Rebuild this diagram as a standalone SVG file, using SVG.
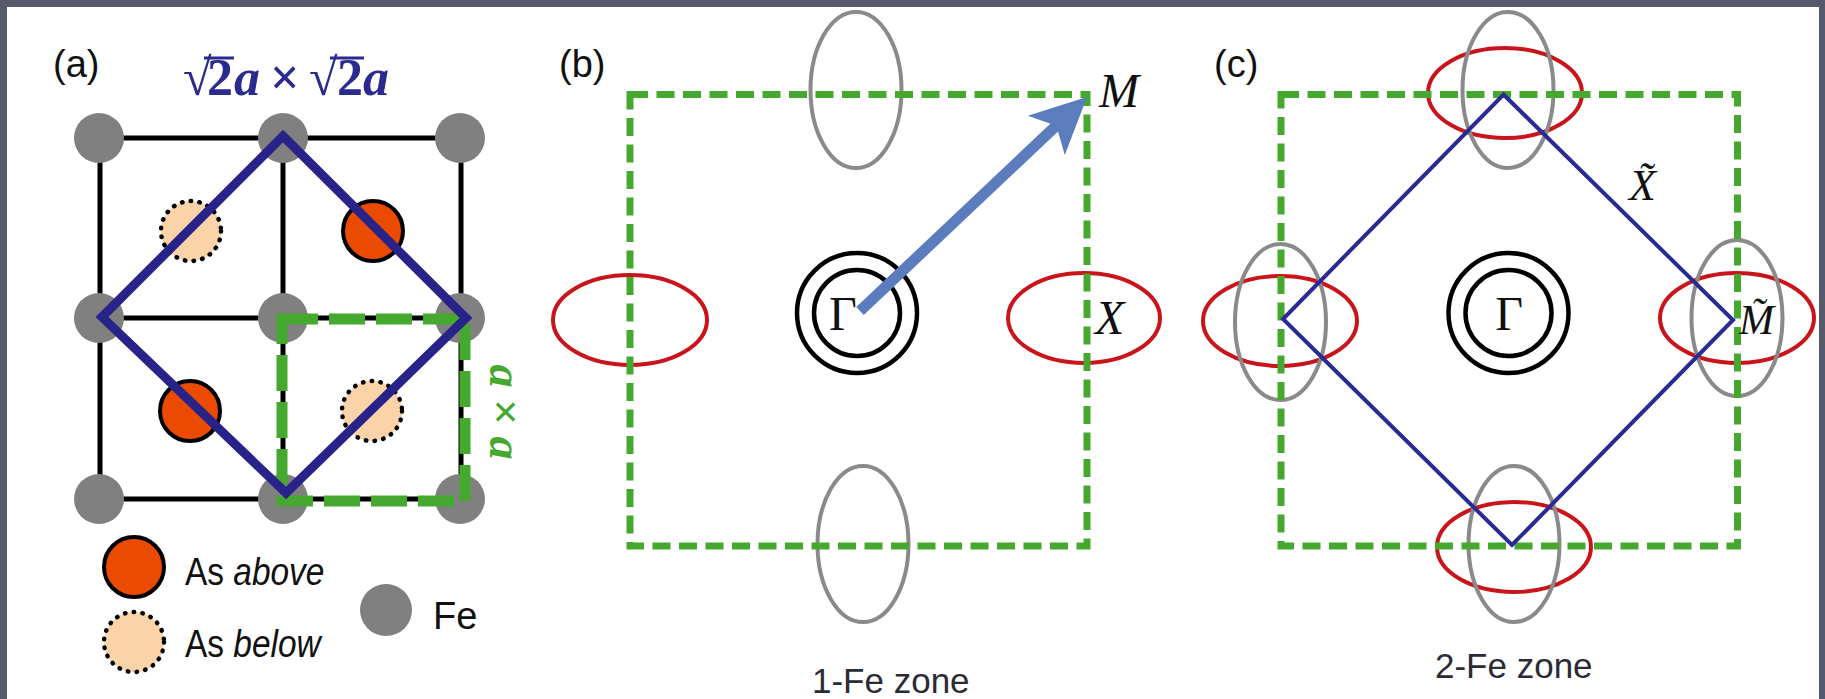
<svg xmlns="http://www.w3.org/2000/svg" width="1825" height="699" viewBox="0 0 1825 699">
<style>
.lbl{font-family:"Liberation Sans",Arial,sans-serif;font-size:38px;fill:#111}
.sym{font-family:"Liberation Serif","Times New Roman",serif;font-style:italic;fill:#111}
.gt{font-family:"Liberation Serif","Times New Roman",serif;font-style:normal;font-size:48px;fill:#111}
.zone{font-family:"Liberation Sans",Arial,sans-serif;font-size:35px;fill:#2b2b36}
.grid{stroke:#000;stroke-width:5;fill:none}
.fe{fill:#808080}
.asA{fill:#ea4b00;stroke:#000;stroke-width:4}
.asB{fill:#fbd3a9;stroke:#000;stroke-width:4.5;stroke-dasharray:0.5 8.3;stroke-linecap:round}
.red{fill:none;stroke:#c8141a;stroke-width:4}
.gray{fill:none;stroke:#8a8a8a;stroke-width:4}
.gz{fill:none;stroke:#45a82f;stroke-width:7;stroke-dasharray:18 8.5}
.bz{fill:none;stroke:#2a2a95;stroke-width:4;stroke-linejoin:miter}
.gam{fill:none;stroke:#000;stroke-width:4.5}
.vinc{stroke:#2b2a8e;stroke-width:3}
</style>
<rect x="0" y="0" width="1825" height="699" fill="#575a6c"/>
<rect x="7" y="7" width="1812" height="692" fill="#ffffff"/>

<g id="panel-a">
  <text class="lbl" x="53" y="77">(a)</text>
  <g id="label-sqrt2">
    <text y="95" font-family="Liberation Serif,'Times New Roman',serif" font-size="52" font-weight="bold" fill="#2b2a8e"><tspan x="183">√</tspan><tspan x="207">2</tspan><tspan x="234" font-style="italic">a</tspan><tspan x="270">×</tspan><tspan x="309">√</tspan><tspan x="337">2</tspan><tspan x="363" font-style="italic">a</tspan></text>
    <line class="vinc" x1="204" y1="58" x2="234" y2="58"/>
    <line class="vinc" x1="330" y1="58" x2="364" y2="58"/>
  </g>
  <g id="grid">
    <rect class="grid" x="100" y="138" width="361" height="361"/>
    <line class="grid" x1="283" y1="138" x2="283" y2="499"/>
    <line class="grid" x1="100" y1="318" x2="461" y2="318"/>
  </g>
  <g id="fe-atoms">
    <circle class="fe" cx="99" cy="138" r="25"/>
    <circle class="fe" cx="283" cy="138" r="25"/>
    <circle class="fe" cx="460" cy="138" r="25"/>
    <circle class="fe" cx="99" cy="318" r="25"/>
    <circle class="fe" cx="283" cy="318" r="25"/>
    <circle class="fe" cx="460" cy="318" r="25"/>
    <circle class="fe" cx="99" cy="499" r="25"/>
    <circle class="fe" cx="283" cy="499" r="25"/>
    <circle class="fe" cx="460" cy="499" r="25"/>
  </g>
  <g id="as-atoms">
    <circle class="asB" cx="191" cy="231" r="30"/>
    <circle class="asA" cx="373" cy="231" r="30"/>
    <circle class="asA" cx="190" cy="411" r="30"/>
    <circle class="asB" cx="372" cy="411" r="30"/>
  </g>
  <g id="cell-1fe">
    <path d="M282 319 H465 V501 H282 Z" fill="none" stroke="#45a82f" stroke-width="11" stroke-dasharray="36 11"/>
    <text transform="translate(501,412) rotate(90)" x="0" y="11" text-anchor="middle" font-family="Liberation Serif,'Times New Roman',serif" font-size="46" font-weight="bold" font-style="italic" fill="#45a82f">a <tspan font-style="normal">×</tspan> a</text>
  </g>
  <g id="cell-2fe">
    <path d="M283 136 L466 318 L286 493 L102 317 Z" fill="none" stroke="#272389" stroke-width="9" stroke-linejoin="miter"/>
  </g>
  <g id="legend">
    <circle class="asA" cx="134" cy="567" r="30"/>
    <text class="lbl" transform="translate(185,585) scale(0.88,1)" font-size="40">As <tspan font-style="italic" font-size="38">above</tspan></text>
    <circle class="asB" cx="134" cy="642" r="30"/>
    <text class="lbl" transform="translate(185,657) scale(0.88,1)" font-size="40">As <tspan font-style="italic" font-size="38">below</tspan></text>
    <circle class="fe" cx="386" cy="610" r="26"/>
    <text class="lbl" x="433" y="629" font-size="39">Fe</text>
  </g>
</g>

<g id="panel-b">
  <text class="lbl" x="559" y="77">(b)</text>
  <g id="b-pockets">
    <ellipse class="gray" cx="856" cy="90" rx="45.5" ry="78"/>
    <ellipse class="gray" cx="863" cy="544" rx="45.5" ry="78"/>
    <ellipse class="red" cx="630" cy="320" rx="77" ry="45"/>
    <ellipse class="red" cx="1084" cy="318" rx="76" ry="45"/>
  </g>
  <rect id="b-zone" class="gz" x="630" y="94.5" width="457" height="451.5"/>
  <g id="b-gamma">
    <circle class="gam" cx="857" cy="313" r="60"/>
    <circle class="gam" cx="857" cy="313" r="43"/>
    <text class="gt" x="829" y="330">Γ</text>
  </g>
  <text class="sym" x="1099" y="107" font-size="48">M</text>
  <text class="sym" x="1095" y="334" font-size="48">X</text>
  <text class="zone" x="812" y="693">1-Fe zone</text>
</g>

<g id="panel-c">
  <text class="lbl" x="1214" y="77">(c)</text>
  <g id="c-pockets">
    <ellipse class="red" cx="1505" cy="93" rx="77" ry="45"/>
    <ellipse class="gray" cx="1508" cy="90" rx="45.5" ry="78"/>
    <ellipse class="red" cx="1280" cy="321" rx="77" ry="45"/>
    <ellipse class="gray" cx="1280.5" cy="322" rx="45.5" ry="78"/>
    <ellipse class="red" cx="1737" cy="318" rx="77" ry="45"/>
    <ellipse class="gray" cx="1737" cy="318" rx="45.5" ry="78"/>
    <ellipse class="red" cx="1514" cy="547" rx="77" ry="45"/>
    <ellipse class="gray" cx="1514" cy="544" rx="45.5" ry="78"/>
  </g>
  <rect id="c-zone1" class="gz" x="1281" y="94.5" width="456.5" height="451.5"/>
  <path id="c-zone2" class="bz" d="M1503.5 94.5 L1733 320 L1512 545 L1283 319 Z"/>
  <g id="c-gamma">
    <circle class="gam" cx="1508.5" cy="313" r="60"/>
    <circle class="gam" cx="1508.5" cy="313" r="43"/>
    <text class="gt" x="1509" y="330" text-anchor="middle">Γ</text>
  </g>
  <text class="sym" x="1629" y="200" font-size="44">X̃</text>
  <text class="sym" x="1739" y="334" font-size="42">M̃</text>
  <text class="zone" x="1435" y="678" font-size="36">2-Fe zone</text>
</g>

<g id="connectors">
  <line x1="860" y1="311" x2="1058" y2="124" stroke="#5b7cbd" stroke-width="11"/>
  <polygon points="1087,97 1027.8,115.8 1056.4,125.8 1064.8,155" fill="#5b7cbd"/>
</g>
</svg>
